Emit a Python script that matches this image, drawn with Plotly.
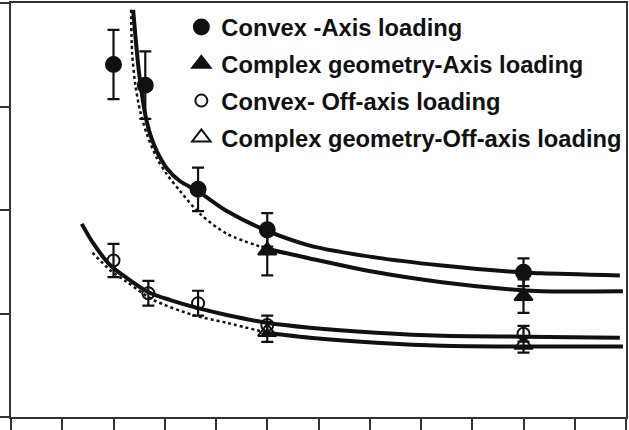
import plotly.graph_objects as go

# --- measured points (x: bottom-axis units, y: left-axis units) ---
convex_axis_x = [20, 26.2, 36.5, 50, 100]
convex_axis_y = [17.03, 16.03, 11.0, 9.04, 6.99]
convex_axis_err = [1.67, 1.63, 1.05, 0.81, 0.67]

complex_axis_x = [50, 100]
complex_axis_y = [8.04, 5.84]
complex_axis_err = [1.2, 0.81]

convex_off_x = [20, 26.8, 36.5, 50, 100]
convex_off_y = [7.56, 5.98, 5.5, 4.45, 4.02]
convex_off_err = [0.8, 0.6, 0.6, 0.45, 0.38]

complex_off_x = [50, 100]
complex_off_y = [4.11, 3.49]
complex_off_err = [0.48, 0.38]

# --- fitted curves ---
fit_convex_axis_x = [23.83, 24.27, 24.91, 25.57, 26.21, 27.18, 28.49, 30.43, 33.01, 36.5,
                     42.1, 49.9, 58.3, 71.3, 84.1, 97.1, 100.2, 103.5, 118.8]
fit_convex_axis_y = [19.67, 18.42, 16.79, 15.55, 14.59, 13.64, 12.82, 12.01, 11.39, 10.9,
                     9.95, 9.0, 8.28, 7.70, 7.32, 7.03, 6.99, 6.94, 6.84]

fit_complex_axis_dot_x = [23.44, 23.63, 24.27, 25.24, 26.54, 28.49, 30.43, 33.01, 36.89,
                          42.14, 49.9]
fit_complex_axis_dot_y = [19.67, 17.61, 16.03, 14.74, 13.64, 12.49, 11.72, 10.91, 9.81,
                          8.85, 8.13]
fit_complex_axis_x = [49.9, 58.3, 71.3, 84.1, 97.1, 103.5, 119.4]
fit_complex_axis_y = [8.13, 7.66, 6.99, 6.51, 6.17, 6.08, 6.08]

fit_convex_off_x = [13.8, 16.1, 19.4, 22.7, 26.8, 31.1, 36.5, 42.1, 49.9, 58.3,
                    71.3, 84.1, 100.2, 118.8]
fit_convex_off_y = [9.33, 8.37, 7.32, 6.70, 6.03, 5.65, 5.26, 4.93, 4.55, 4.31,
                    4.07, 3.92, 3.88, 3.83]

fit_complex_off_dot_x = [15.9, 19.4, 22.7, 27.8, 35.5, 42.1, 49.9]
fit_complex_off_dot_y = [7.94, 7.08, 6.51, 5.65, 4.93, 4.55, 4.07]
fit_complex_off_x = [49.9, 58.3, 71.3, 84.1, 100.2, 119.4]
fit_complex_off_y = [4.07, 3.83, 3.59, 3.44, 3.40, 3.40]

INK = "#111111"

fig = go.Figure()


def curve(x, y, dash="solid", width=4):
    fig.add_trace(go.Scatter(
        x=x, y=y, mode="lines",
        line=dict(color=INK, width=width, dash=dash, shape="spline", smoothing=0.8),
        showlegend=False, hoverinfo="skip"
    ))


curve(fit_convex_axis_x, fit_convex_axis_y)
curve(fit_complex_axis_dot_x, fit_complex_axis_dot_y, dash="dot", width=2.5)
curve(fit_complex_axis_x, fit_complex_axis_y)
curve(fit_convex_off_x, fit_convex_off_y)
curve(fit_complex_off_dot_x, fit_complex_off_dot_y, dash="dot", width=2.5)
curve(fit_complex_off_x, fit_complex_off_y)


# measured points with error bars
def points(name, x, y, err, symbol, size, fill, group):
    fig.add_trace(go.Scatter(
        x=x, y=y, mode="markers", name=name, legendgroup=group,
        marker=dict(symbol=symbol, size=size, color=fill, line=dict(color=INK, width=2)),
        error_y=dict(type="data", array=err, visible=True, color=INK, thickness=2.2, width=6)
    ))


points("Convex -Axis loading", convex_axis_x, convex_axis_y, convex_axis_err,
       "circle", 15, INK, "a")
points("Complex geometry-Axis loading", complex_axis_x, complex_axis_y, complex_axis_err,
       "triangle-up", 16, INK, "b")
points("Convex- Off-axis loading", convex_off_x, convex_off_y, convex_off_err,
       "circle", 12, "rgba(0,0,0,0)", "c")
points("Complex geometry-Off-axis loading", complex_off_x, complex_off_y, complex_off_err,
       "triangle-up", 16, "rgba(0,0,0,0)", "d")

fig.update_layout(
    width=629, height=430,
    margin=dict(l=10, r=1, t=1, b=11),
    paper_bgcolor="white", plot_bgcolor="white",
    font=dict(family="Liberation Sans, Arial, sans-serif", color=INK),
    legend=dict(
        x=0.277, y=0.995, xanchor="left", yanchor="top",
        bgcolor="rgba(0,0,0,0)", borderwidth=0,
        font=dict(size=23.7, weight="bold", color=INK),
        traceorder="grouped", tracegroupgap=3,
        itemsizing="trace",
    ),
    xaxis=dict(
        range=[0, 120], dtick=10, showgrid=False, zeroline=False,
        showline=True, linecolor="#333333", linewidth=2, mirror=True,
        ticks="outside", ticklen=12, tickwidth=2, tickcolor="#333333",
        showticklabels=False,
    ),
    yaxis=dict(
        range=[0, 20], dtick=5, showgrid=False, zeroline=False,
        showline=True, linecolor="#333333", linewidth=2, mirror=True,
        ticks="outside", ticklen=10, tickwidth=2, tickcolor="#333333",
        showticklabels=False,
    ),
)

fig.write_html("out.html", config={"displayModeBar": False},
               post_script="document.body.style.margin='0';")
